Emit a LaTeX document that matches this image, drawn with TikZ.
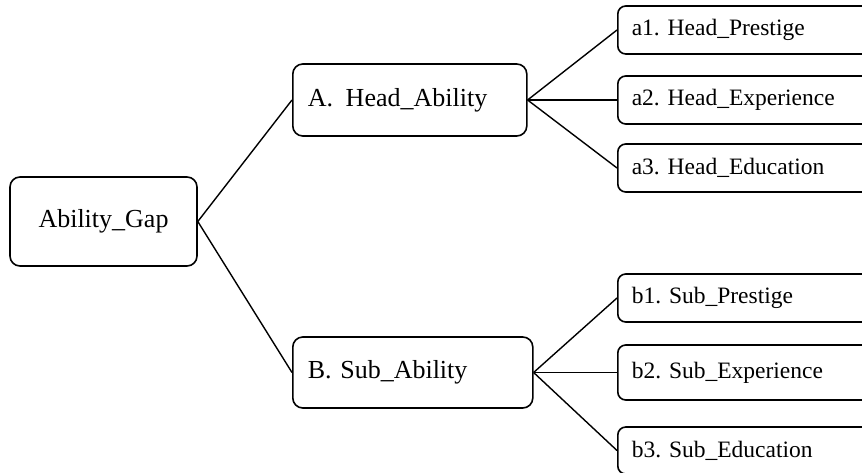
\documentclass[tikz,border=0pt]{standalone}
\usepackage{fontspec}
\setmainfont{Liberation Serif}
\frenchspacing
\begin{document}
\begin{tikzpicture}[x=1pt,y=-1pt,
  box/.style={draw,line width=1.6pt,rounded corners=10pt,inner ysep=0pt},
  bigtext/.style={font=\fontsize{26}{30}\selectfont},
  smalltext/.style={font=\fontsize{23.5}{28}\selectfont},
  mainbox/.style={box,bigtext,anchor=west,inner xsep=15pt,align=left},
  leafbox/.style={box,smalltext,anchor=west,inner xsep=14pt,align=left,text width=235pt,rounded corners=8pt},
  link/.style={line width=1.4pt}]
\useasboundingbox (0,0) rectangle (862,473);
\clip (0,0) rectangle (862,473);
\node[box,bigtext,minimum width=187pt,minimum height=89pt] (G) at (103.5,221.5) {Ability\_Gap};
\node[mainbox,text width=204pt,minimum height=72pt] (A) at (292,100) {A.\ \kern4pt Head\_Ability};
\node[mainbox,text width=210pt,minimum height=71pt] (B) at (292,372.5) {B. Sub\_Ability};
\node[leafbox,minimum height=48pt] (a1) at (617,30) {a1. Head\_Prestige};
\node[leafbox,minimum height=48pt] (a2) at (617,100) {a2. Head\_Experience};
\node[leafbox,minimum height=48pt] (a3) at (617,168) {a3. Head\_Education};
\node[leafbox,minimum height=48pt] (b1) at (617,298) {b1. Sub\_Prestige};
\node[leafbox,minimum height=55pt] (b2) at (617,372.5) {b2. Sub\_Experience};
\node[leafbox,minimum height=47pt] (b3) at (617,450.5) {b3. Sub\_Education};
\draw[link] (G.east) -- (A.west);
\draw[link] (G.east) -- (B.west);
\draw[link] (A.east) -- (a1.west);
\draw[link] (A.east) -- (a2.west);
\draw[link] (A.east) -- (a3.west);
\draw[link] (B.east) -- (b1.west);
\draw[link] (B.east) -- (b2.west);
\draw[link] (B.east) -- (b3.west);
\end{tikzpicture}
\end{document}
